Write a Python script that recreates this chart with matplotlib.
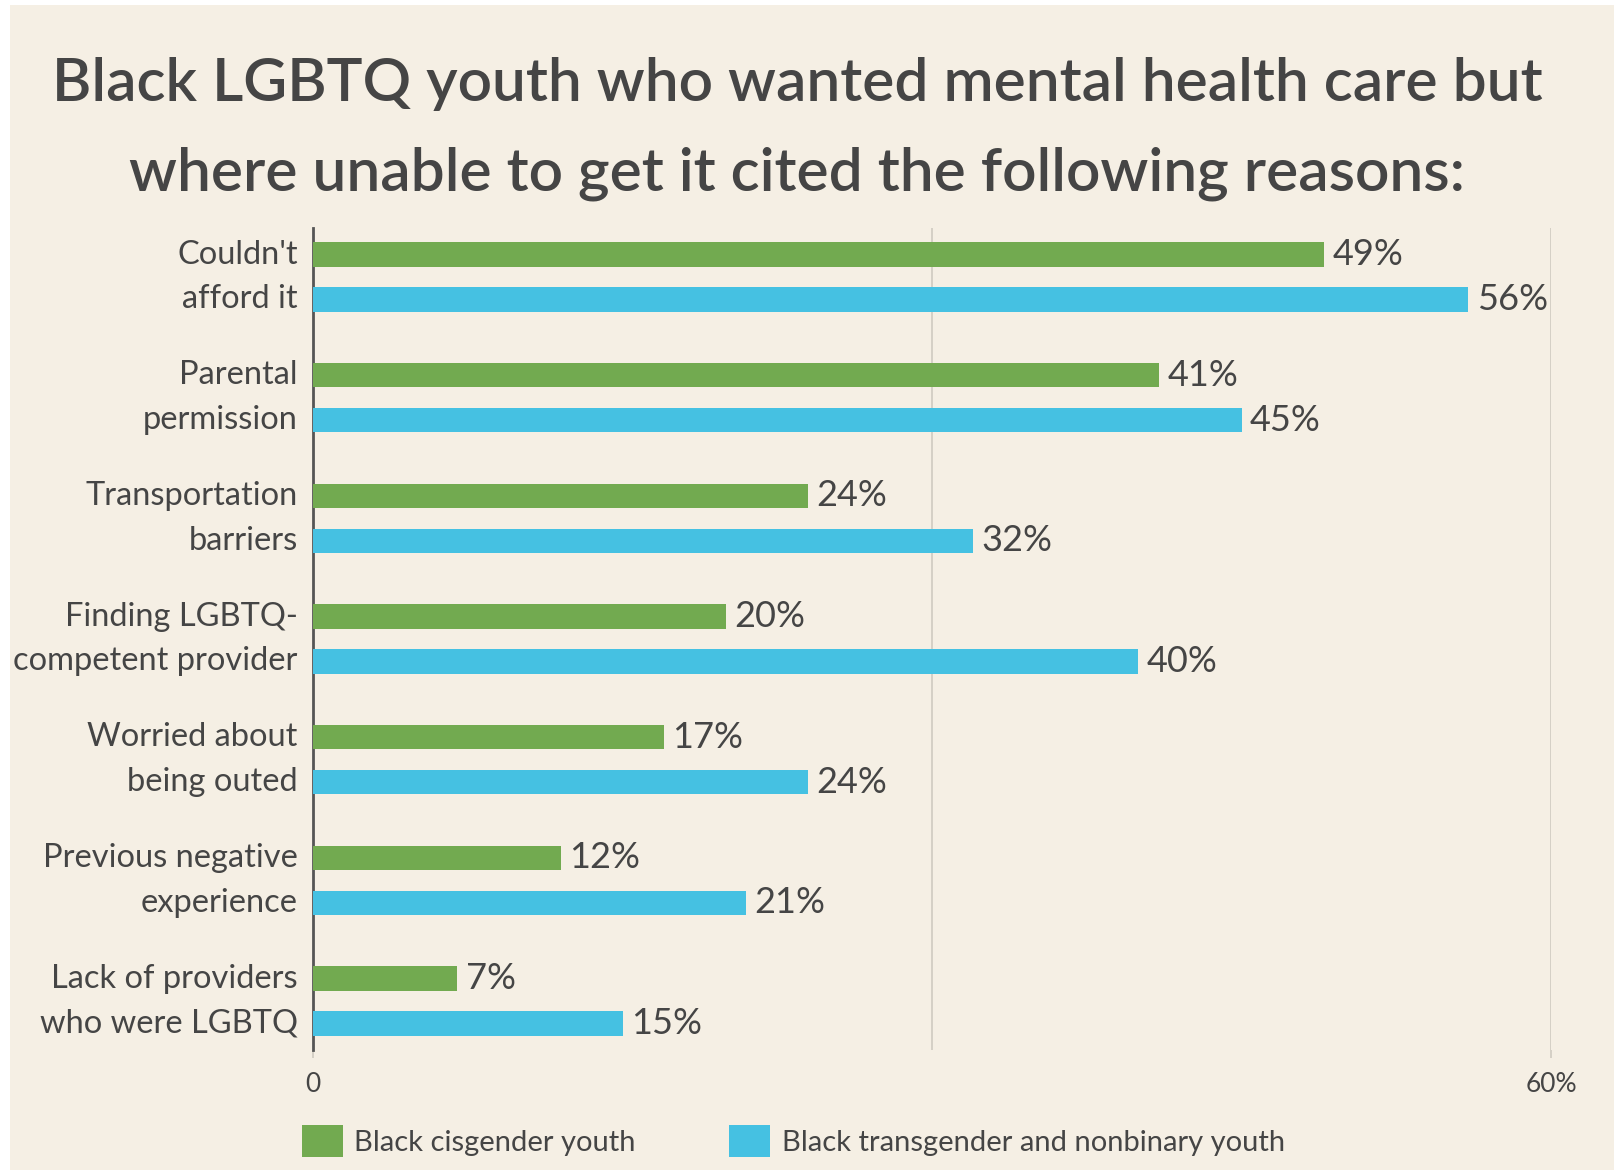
import numpy as np
import matplotlib
matplotlib.use("Agg")
import matplotlib.pyplot as plt
from matplotlib.patches import Rectangle, Patch

plt.rcParams['font.family'] = ['Lato', 'DejaVu Sans']

# data
reasons = ["Couldn't\nafford it", "Parental\npermission", "Transportation\nbarriers",
           "Finding LGBTQ-\ncompetent provider", "Worried about\nbeing outed",
           "Previous negative\nexperience", "Lack of providers\nwho were LGBTQ"]
cis_vals = [49, 41, 24, 20, 17, 12, 7]
trans_vals = [56, 45, 32, 40, 24, 21, 15]
series_names = ["Black cisgender youth", "Black transgender and nonbinary youth"]

GREEN = "#72aa50"
BLUE = "#45c1e2"
BG = "#f5efe4"
TXT = "#454545"

fig = plt.figure(figsize=(16.14, 11.72), dpi=100, facecolor="white")
fig.patches.append(Rectangle((10 / 1614, 2 / 1172), 1 - 10 / 1614, 1 - 7 / 1172,
                             transform=fig.transFigure, facecolor=BG,
                             edgecolor="none", zorder=-10))

ax = fig.add_axes([313 / 1614, 1 - 1050 / 1172, (1551 - 313) / 1614, (1050 - 228) / 1172])
ax.set_facecolor("none")

y = np.arange(len(reasons))
off = 0.186
h = 0.2
ax.barh(y - off, cis_vals, height=h, color=GREEN, zorder=3)
ax.barh(y + off, trans_vals, height=h, color=BLUE, zorder=3)

for yi, v in zip(y - off, cis_vals):
    ax.text(v + 0.4, yi, f"{v}%", va="center", ha="left", fontsize=26, color=TXT)
for yi, v in zip(y + off, trans_vals):
    ax.text(v + 0.4, yi, f"{v}%", va="center", ha="left", fontsize=26, color=TXT)

ax.set_xlim(0, 60)
ax.set_ylim(6.406, -0.406)

ax.set_yticks(y)
ax.set_yticklabels(reasons, fontsize=23.5, color=TXT, linespacing=1.6)
for lab in ax.get_yticklabels():
    lab.set_va("center")
ax.tick_params(axis="y", length=0, pad=11)
ax.set_xticks([0, 60])
ax.set_xticklabels(["0", "60%"], fontsize=19, color=TXT)
ax.tick_params(axis="x", length=6, width=1.2, color="#cfcac0", pad=10)

for s in ["top", "right", "bottom"]:
    ax.spines[s].set_visible(False)
ax.spines["left"].set_color("#555555")
ax.spines["left"].set_linewidth(2)

for gx in [30, 60]:
    ax.axvline(gx, color="#d2cdc3", lw=1.3, zorder=1)

fig.text(0.494, 1 - 84 / 1172, "Black LGBTQ youth who wanted mental health care but",
         ha="center", va="center", fontsize=43.5, fontweight="semibold", color=TXT)
fig.text(0.494, 1 - 174 / 1172, "where unable to get it cited the following reasons:",
         ha="center", va="center", fontsize=43.5, fontweight="semibold", color=TXT)

handles = [Patch(facecolor=GREEN), Patch(facecolor=BLUE)]
fig.legend(handles, series_names, loc="center", bbox_to_anchor=(0.4915, 1 - 1141 / 1172),
           ncol=2, frameon=False, fontsize=21, handlelength=1.4, handleheight=1.3,
           handletextpad=0.4, columnspacing=3.2, labelcolor=TXT)

fig.savefig("out.png", dpi=100, facecolor=fig.get_facecolor())
